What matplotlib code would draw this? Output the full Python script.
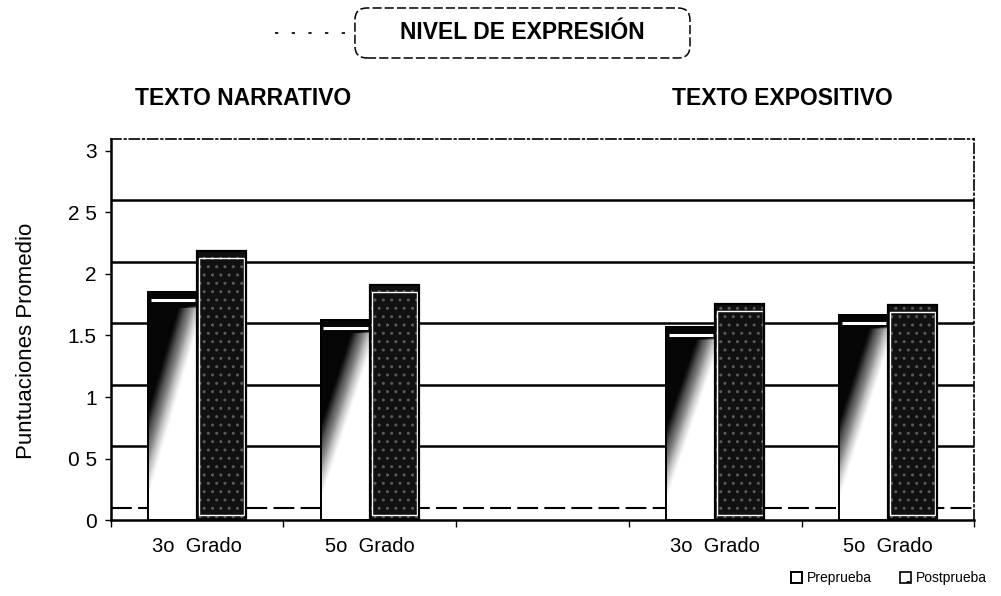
import numpy as np
import matplotlib
matplotlib.use("Agg")
import matplotlib.pyplot as plt
from matplotlib.patches import Patch, FancyBboxPatch

# ---- data ----
positions = [0, 1, 3, 4]
tick_labels = ["3o  Grado", "5o  Grado", "3o  Grado", "5o  Grado"]
preprueba = [1.85, 1.63, 1.57, 1.67]
postprueba = [2.19, 1.91, 1.76, 1.75]
yticks = [0, 0.5, 1, 1.5, 2, 2.5, 3]
ytick_labels = ["0", "0 5", "1", "1.5", "2", "2 5", "3"]
group_titles = ["TEXTO NARRATIVO", "TEXTO EXPOSITIVO"]
series_names = ["Preprueba", "Postprueba"]
main_title = "NIVEL DE EXPRESIÓN"
ylabel = "Puntuaciones Promedio"

plt.rcParams['font.family'] = ['Liberation Sans', 'DejaVu Sans']

fig = plt.figure(figsize=(10.01, 5.96), dpi=100)
ax = fig.add_axes([0.1105, 0.1275, 0.8629, 0.6398])
ax.set_xlim(-0.5, 4.5)
ax.set_ylim(0, 3.1)

depth = 0.1  # back wall offset

# back-wall gridlines
for t in yticks[1:-1]:
    ax.axhline(t + depth, color='black', lw=1.8, zorder=1)
ax.axhline(depth, color='black', lw=1.5, ls=(0, (10, 3)), zorder=1)

bw = 0.285
x = np.array(positions, dtype=float)

# gradient image for preprueba bars (dark at top-left, white at bottom-right)
gy, gx = np.mgrid[0:1:200j, 0:1:100j]
dark = np.clip((gy - (0.10 + 0.75 * gx)) / 0.38, 0, 1) ** 0.8
dark = np.clip(dark + np.clip((gy - 0.93) / 0.02, 0, 1), 0, 1)

pre_bars = ax.bar(x - bw / 2, preprueba, width=bw, color='white',
                  edgecolor='black', lw=1.4, zorder=3)
for b in pre_bars:
    x0, w, h = b.get_x(), b.get_width(), b.get_height()
    im = ax.imshow(dark, cmap='Greys', vmin=0, vmax=1.02, origin='lower',
                   extent=(x0, x0 + w, 0, h), aspect='auto', zorder=3.5,
                   interpolation='bilinear')
    im.set_clip_path(b)
    ax.hlines(h - 0.065, x0 + 0.06 * w, x0 + 0.96 * w, color='white', lw=2.2, zorder=4)
    ax.bar(x0, h, width=w, align='edge', fill=False, edgecolor='black', lw=1.4, zorder=4.5)

post_bars = ax.bar(x + bw / 2, postprueba, width=bw, color='#111111',
                   edgecolor='#5a5a5a', hatch='..', lw=0, zorder=3)
for b in post_bars:
    x0, w, h = b.get_x(), b.get_width(), b.get_height()
    ax.bar(x0 + 0.04 * w, h - 0.1, width=0.92 * w, bottom=0.04, align='edge',
           fill=False, edgecolor='white', lw=1.0, zorder=4)
    ax.bar(x0, h, width=w, align='edge', fill=False, edgecolor='black', lw=1.6, zorder=4.5)

# axes styling
ax.set_xticks(positions)
ax.set_xticklabels(tick_labels, fontsize=14.5)
ax.set_xticks([-0.5, 0.5, 1.5, 2.5, 3.5, 4.5], minor=True)
ax.tick_params(axis='x', which='major', length=0, pad=12)
ax.tick_params(axis='x', which='minor', length=5, width=1, direction='out')
ax.set_yticks(yticks)
ax.set_yticklabels(ytick_labels, fontsize=15)
ax.tick_params(axis='y', length=4, width=1, direction='out', pad=6)
ax.spines['left'].set_linewidth(1.8)
ax.spines['bottom'].set_linewidth(1.8)
ax.spines['top'].set_linestyle((0, (6, 2, 1, 2)))
ax.spines['right'].set_linestyle((0, (6, 2, 1, 2)))
ax.spines['top'].set_linewidth(1.2)
ax.spines['right'].set_linewidth(1.2)
ax.set_ylabel(ylabel, fontsize=16)
ax.yaxis.set_label_coords(-0.085, 0.469)

# titles
box = FancyBboxPatch((0.3546, 0.9027), 0.3347, 0.0839, transform=fig.transFigure,
                     boxstyle='round,pad=0,rounding_size=0.012', fc='white',
                     ec='black', lw=1.1, ls=(0, (6, 2)), mutation_aspect=1.68)
fig.patches.append(box)
fig.text(0.522, 0.945, main_title, fontsize=16.5, fontweight='bold',
         ha='center', va='center')
fig.lines.append(plt.Line2D([0.275, 0.35], [0.945, 0.945], transform=fig.transFigure,
                            color='black', lw=1.2, ls=(0, (2, 8))))
fig.text(0.135, 0.834, group_titles[0], fontsize=16.5, fontweight='bold',
         ha='left', va='center')
fig.text(0.671, 0.834, group_titles[1], fontsize=16.5, fontweight='bold',
         ha='left', va='center')

# legend
handles = [Patch(facecolor='white', edgecolor='black', lw=1.4, label=series_names[0]),
           Patch(facecolor='white', edgecolor='black', hatch='.', lw=1.2, label=series_names[1])]
fig.legend(handles=handles, loc='center', bbox_to_anchor=(0.888, 0.03), ncol=2,
           frameon=False, handlelength=0.8, handleheight=0.8,
           handletextpad=0.35, columnspacing=2.0, fontsize=10)

fig.savefig("out.png", dpi=100)
